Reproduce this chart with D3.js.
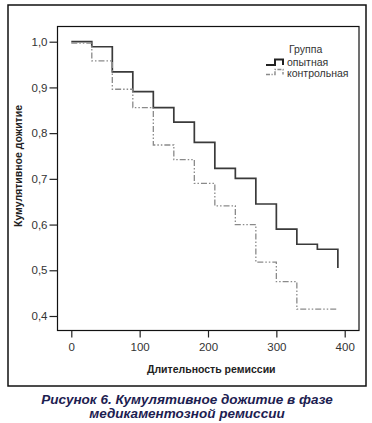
<!DOCTYPE html>
<html><head><meta charset="utf-8">
<script src="https://cdn.jsdelivr.net/npm/d3@7"></script>
<style>body{margin:0;background:#fff}svg{display:block}</style>
</head><body>
<script>
const times = [0, 30, 60, 90, 120, 150, 180, 210, 240, 270, 300, 330, 360, 390];
const experimental = [1.0, 0.989, 0.934, 0.891, 0.856, 0.824, 0.780, 0.723, 0.701, 0.645, 0.590, 0.557, 0.546, 0.505];
const control = [0.997, 0.958, 0.896, 0.856, 0.774, 0.742, 0.690, 0.641, 0.600, 0.518, 0.475, 0.415, 0.415, 0.415];
const xTicks = [0, 100, 200, 300, 400];
const yTicks = [0.4, 0.5, 0.6, 0.7, 0.8, 0.9, 1.0];
const legendTitle = "Группа";
const seriesNames = ["опытная", "контрольная"];
const xTitle = "Длительность ремиссии";
const yTitle = "Кумулятивное дожитие";
const caption = ["Рисунок 6. Кумулятивное дожитие в фазе", "медикаментозной ремиссии"];

const W = 372, H = 423;
const svg = d3.select("body").append("svg").attr("width", W).attr("height", H);
const font = "Liberation Sans, Arial, sans-serif";

// outer frame
svg.append("rect").attr("x", 8).attr("y", 5).attr("width", 358).attr("height", 381)
  .attr("fill", "none").attr("stroke", "#111").attr("stroke-width", 1.5);

const pl = 57.5, pt = 26.5, pr = 359, pb = 330.5;
svg.append("rect").attr("x", pl).attr("y", pt).attr("width", pr - pl).attr("height", pb - pt)
  .attr("fill", "none").attr("stroke", "#111").attr("stroke-width", 1.2);

const x = d3.scaleLinear().domain([0, 400]).range([71.3, 344.7]);
const y = d3.scaleLinear().domain([0.4, 1.0]).range([316, 41.7]);

const xAxis = svg.append("g").attr("transform", `translate(0,${pb})`)
  .call(d3.axisBottom(x).tickValues(xTicks).tickSize(7).tickPadding(5).tickFormat(d3.format("d")));
xAxis.select(".domain").remove();
xAxis.selectAll("line").attr("stroke", "#222").attr("stroke-width", 1.2);
xAxis.selectAll("text").attr("font-family", font).attr("font-size", 11.5).attr("fill", "#333");

const fmt = d => d.toFixed(1).replace(".", ",");
const yAxis = svg.append("g").attr("transform", `translate(${pl},0)`)
  .call(d3.axisLeft(y).tickValues(yTicks).tickSize(8).tickPadding(2).tickFormat(fmt));
yAxis.select(".domain").remove();
yAxis.selectAll("line").attr("stroke", "#222").attr("stroke-width", 1.2);
yAxis.selectAll("text").attr("font-family", font).attr("font-size", 11.5).attr("fill", "#333");

// step lines
const stepLine = d3.line().x(d => x(d[0])).y(d => y(d[1])).curve(d3.curveStepAfter);
const expPts = times.map((t, i) => [t, experimental[i]]);
const ctlPts = times.map((t, i) => [t, control[i]]);
// experimental: last drop at 390 shown as vertical line
svg.append("path").datum(expPts.concat([[390, experimental[experimental.length - 1]]]))
  .attr("d", d3.line().x(d => x(d[0])).y(d => y(d[1])).curve(d3.curveStepAfter)(
    expPts.slice(0, -1).concat([[390, experimental[experimental.length - 2]], [390, experimental[experimental.length - 1]]])
  ))
  .attr("fill", "none").attr("stroke", "#3a3a3a").attr("stroke-width", 1.7);
svg.append("path").datum(ctlPts).attr("d", stepLine)
  .attr("fill", "none").attr("stroke", "#8a8a8a").attr("stroke-width", 1.3)
  .attr("stroke-dasharray", "6,2,1.5,2,1.5,2");

// legend
svg.append("text").attr("x", 289).attr("y", 53).text(legendTitle)
  .attr("font-family", font).attr("font-size", 10.5).attr("fill", "#333");
const lg = [[266, 65, 59.5, "#222", 2, null], [266, 74.5, 69.5, "#8a8a8a", 1.4, "4,1.5,1.2,1.5"]];
lg.forEach((l, i) => {
  const [x0, yl, yh, c, w, da] = l;
  const p = d3.path();
  p.moveTo(x0, yl); p.lineTo(x0 + 9, yl); p.lineTo(x0 + 9, yh); p.lineTo(x0 + 17, yh); p.lineTo(x0 + 17, yl);
  const el = svg.append("path").attr("d", p.toString()).attr("fill", "none").attr("stroke", c).attr("stroke-width", w);
  if (da) el.attr("stroke-dasharray", da);
  svg.append("text").attr("x", 287).attr("y", 66 + i * 11).text(seriesNames[i])
    .attr("font-family", font).attr("font-size", 10.5).attr("fill", "#333");
});

// axis titles
svg.append("text").attr("x", (pl + pr) / 2 + 3).attr("y", 373).attr("text-anchor", "middle")
  .text(xTitle).attr("font-family", font).attr("font-size", 10.5).attr("font-weight", "bold").attr("fill", "#222");
svg.append("text").attr("transform", "translate(22,166) rotate(-90)").attr("text-anchor", "middle")
  .text(yTitle).attr("font-family", font).attr("font-size", 10.5).attr("font-weight", "bold").attr("fill", "#222");

// caption
caption.forEach((c, i) => {
  svg.append("text").attr("x", 187).attr("y", 404 + i * 14).attr("text-anchor", "middle").text(c)
    .attr("font-family", font).attr("font-size", 13.5).attr("font-weight", "bold").attr("font-style", "italic")
    .attr("fill", "#1c2050");
});
</script>
</body></html>
